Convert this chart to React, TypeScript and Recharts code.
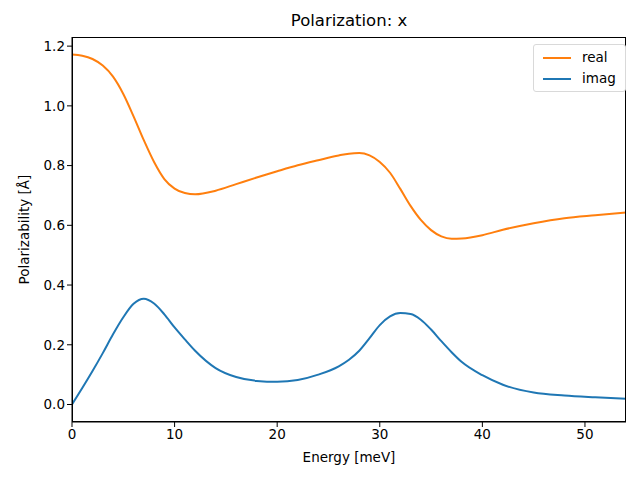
import { Line, LineChart, XAxis, YAxis } from 'recharts';

const energy = [0, 1, 2, 3, 4, 5, 6, 7, 8, 9, 10, 11, 12, 14, 16, 18, 20, 22, 24, 26, 27, 28, 29, 30, 31, 32, 33, 34, 35, 36, 37, 38, 40, 42, 45, 48, 51, 54];
const realPart = [1.172, 1.168, 1.157, 1.135, 1.098, 1.04, 0.965, 0.885, 0.812, 0.755, 0.723, 0.708, 0.704, 0.716, 0.738, 0.76, 0.781, 0.801, 0.818, 0.834, 0.84, 0.842, 0.834, 0.812, 0.776, 0.722, 0.665, 0.618, 0.584, 0.563, 0.555, 0.556, 0.567, 0.585, 0.607, 0.624, 0.634, 0.643];
const imagPart = [0, 0.055, 0.112, 0.172, 0.235, 0.292, 0.337, 0.354, 0.338, 0.302, 0.258, 0.218, 0.18, 0.122, 0.092, 0.079, 0.076, 0.082, 0.1, 0.128, 0.15, 0.18, 0.222, 0.266, 0.295, 0.306, 0.303, 0.284, 0.251, 0.212, 0.175, 0.142, 0.098, 0.066, 0.04, 0.03, 0.024, 0.019];
const xTicks = [0, 10, 20, 30, 40, 50];
const yTicks = [0, 0.2, 0.4, 0.6, 0.8, 1.0, 1.2];
const seriesNames = ['real', 'imag'];
const seriesColors = ['#ff7f0e', '#1f77b4'];

const rows = energy.map((e, i) => ({ e, real: realPart[i], imag: imagPart[i] }));

const font = 'DejaVu Sans, sans-serif';

function MplLegend() {
  return (
    <div
      style={{
        position: 'absolute',
        left: 533,
        top: 44,
        width: 93,
        boxSizing: 'border-box',
        border: '1px solid #d9d9d9',
        borderRadius: 3,
        background: 'rgba(255,255,255,0.8)',
        padding: '2px 0 2px 9px',
        fontFamily: font,
        fontSize: 13.5,
        lineHeight: '21px',
      }}
    >
      {seriesNames.map((name, i) => (
        <div key={name} style={{ display: 'flex', alignItems: 'center' }}>
          <span style={{ display: 'inline-block', width: 28, height: 2, background: seriesColors[i], marginRight: 11 }} />
          <span>{name}</span>
        </div>
      ))}
    </div>
  );
}

export default function App() {
  return (
    <div style={{ position: 'absolute', left: 0, top: 0, width: 640, height: 480, background: '#fff' }}>
      <div style={{ position: 'absolute', left: 72, width: 554, top: 11, textAlign: 'center', fontFamily: font, fontSize: 16.5 }}>
        Polarization: x
      </div>
      <LineChart width={640} height={480} data={rows} margin={{ top: 37, right: 14, bottom: 0, left: 0 }}>
        <XAxis
          dataKey="e"
          type="number"
          domain={[0, 54]}
          ticks={xTicks}
          allowDataOverflow
          height={58}
          stroke="#000"
          tickLine={{ stroke: '#000' }}
          tickSize={5}
          tick={{ fill: '#000', fontFamily: font, fontSize: 13.5 }}
          label={{ value: 'Energy [meV]', position: 'insideBottom', offset: 18, fill: '#000', fontFamily: font, fontSize: 13.5 }}
        />
        <YAxis
          type="number"
          domain={[-0.0586, 1.2306]}
          ticks={yTicks}
          allowDataOverflow
          width={72}
          stroke="#000"
          tickSize={5}
          tickFormatter={(v: number) => v.toFixed(1)}
          tick={{ fill: '#000', fontFamily: font, fontSize: 13.5 }}
          label={{ value: 'Polarizability [Å]', angle: -90, position: 'insideLeft', offset: 24, fill: '#000', fontFamily: font, fontSize: 13.5, style: { textAnchor: 'middle' } }}
        />
        <Line dataKey="real" name={seriesNames[0]} type="monotone" stroke={seriesColors[0]} strokeWidth={2} dot={false} isAnimationActive={false} />
        <Line dataKey="imag" name={seriesNames[1]} type="monotone" stroke={seriesColors[1]} strokeWidth={2} dot={false} isAnimationActive={false} />
      </LineChart>
      {/* axes frame, like matplotlib's four spines */}
      <div style={{ position: 'absolute', left: 72, top: 37, width: 554, height: 385, boxSizing: 'border-box', border: '1px solid #000', pointerEvents: 'none' }} />
      <MplLegend />
    </div>
  );
}
